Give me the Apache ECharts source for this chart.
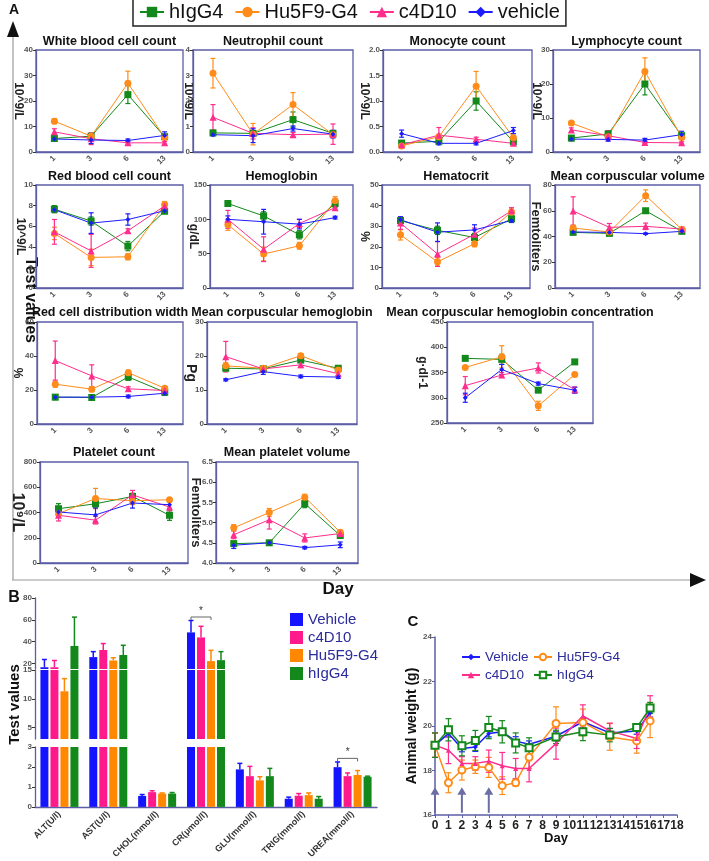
<!DOCTYPE html>
<html><head><meta charset="utf-8">
<script src="https://cdn.jsdelivr.net/npm/echarts@6/dist/echarts.min.js"></script>
<style>html,body{margin:0;padding:0;background:#fff}#c{width:709px;height:861px}</style>
</head><body><div id="c"></div>
<script>
// ---------------- DATA ----------------
const days = ['1','3','6','13'];
const groupsA = ['hIgG4','Hu5F9-G4','c4D10','vehicle'];
// each panel: rows = hIgG4, Hu5F9-G4, c4D10, vehicle ; columns = day 1,3,6,13
const WBC = [[5.3,6.2,22.5,6.0],[12.1,6.2,27.0,5.7],[7.9,5.2,3.6,3.6],[5.1,4.7,4.5,6.5]];
const WBC_ERR = [[0.8,0.8,3.5,0.8],[1.0,0.7,4.7,0.7],[1.2,2.3,0.5,0.5],[0.7,1.4,0.6,1.4]];
const NEU = [[0.75,0.73,1.27,0.73],[3.09,0.70,1.86,0.68],[1.36,0.73,0.68,0.70],[0.68,0.64,0.92,0.70]];
const NEU_ERR = [[0.08,0.08,0.3,0.08],[0.58,0.42,0.47,0.1],[0.5,0.22,0.08,0.4],[0.05,0.27,0.1,0.15]];
const MONO = [[0.175,0.21,1.0,0.2],[0.12,0.3,1.29,0.28],[0.14,0.33,0.25,0.17],[0.36,0.17,0.17,0.42]];
const MONO_ERR = [[0.03,0.03,0.18,0.03],[0.03,0.05,0.29,0.05],[0.02,0.15,0.04,0.03],[0.07,0.03,0.03,0.06]];
const LYM = [[4.1,5.3,20.0,4.8],[8.5,4.5,23.7,4.3],[6.5,4.8,2.8,2.7],[3.8,3.7,3.5,5.1]];
const LYM_ERR = [[0.5,0.8,3.2,0.6],[0.6,0.6,4.0,0.6],[0.6,1.5,0.3,0.3],[0.5,0.5,0.5,1.0]];
const RBC = [[7.65,6.5,4.07,7.45],[5.3,2.97,3.03,8.1],[5.45,3.6,5.55,7.97],[7.6,6.3,6.65,7.5]];
const RBC_ERR = [[0.35,0.4,0.45,0.2],[0.6,0.8,0.3,0.3],[1.2,1.6,0.2,0.3],[0.2,1.0,0.55,0.15]];
const HGB = [[123,105,77.5,123],[92,49.5,61.5,127],[100,56.5,94,117],[100,96.5,93,102.5]];
const HGB_ERR = [[4,6,6,6],[8,10,5,6],[13,18,6,4],[5,18,7,2]];
const HCT = [[32.7,28,24.5,33.6],[25.8,12.7,21.5,36.9],[31.5,16.5,26.1,37.5],[33.1,27.1,28.2,32.8]];
const HCT_ERR = [[1.5,2,2,1.2],[2.5,2,1.5,1.5],[3,6,3,1.5],[1.5,4.5,2.5,1]];
const MCV = [[43.2,42.4,60,44],[46.6,43.5,71.7,45.5],[59.8,47.1,47.9,45.8],[43.5,43.2,42.2,44]];
const MCV_ERR = [[1,1,1.2,1],[2,1,4.5,1.5],[11,3,2.5,1.5],[0.8,0.8,0.5,0.8]];
const RDW = [[15.8,15.6,27.7,18.7],[23.4,20.5,30.2,21],[37.3,28.3,20.7,19.7],[15.8,15.8,16.2,18.1]];
const RDW_ERR = [[1.5,1.5,2,1],[1.8,1.5,1.5,1],[11.5,6.5,1.2,1],[0.5,0.5,0.8,1.2]];
const MCH = [[16.4,16.2,18.8,16.4],[17.1,16.4,20.1,15.9],[19.8,16.2,17.4,14.8],[13,15.4,14,13.8]];
const MCH_ERR = [[0.6,0.5,0.7,0.5],[0.9,0.7,0.6,0.6],[4.5,0.9,0.8,0.6],[0.3,0.8,0.4,0.4]];
const MCHC = [[378,376,315,371],[360,381,284,346],[324,345,359,316],[300,356,328,315]];
const MCHC_ERR = [[4,10,4,3],[3,22,9,3],[18,5,10,5],[9,10,3,6]];
const PLT = [[430,469,527,378],[391,511,493,501],[378,339,540,443],[404,381,475,462]];
const PLT_ERR = [[40,35,25,40],[20,80,30,15],[45,30,35,40],[35,55,40,30]];
const MPV = [[4.48,4.5,5.47,4.68],[4.87,5.25,5.63,4.76],[4.7,5.07,4.62,4.73],[4.44,4.5,4.38,4.45]];
const MPV_ERR = [[0.05,0.04,0.1,0.05],[0.08,0.1,0.07,0.05],[0.1,0.23,0.1,0.05],[0.08,0.03,0.03,0.07]];

const bioCats = ['ALT(U/l)','AST(U/l)','CHOL(mmol/l)','CR(μmol/l)','GLU(mmol/l)','TRIG(mmol/l)','UREA(mmol/l)'];
const bioGroups = ['Vehicle','c4D10','Hu5F9-G4','hIgG4'];
const bioVehicle = [16.6,25.9,0.55,48.5,1.88,0.41,1.99];
const bioC4D10 = [16.6,32.4,0.74,43.9,1.54,0.56,1.54];
const bioHu5F9 = [11.3,22.8,0.67,22.2,1.33,0.59,1.60];
const bioHIgG4 = [36.1,27.8,0.67,23.1,1.54,0.41,1.51];
const bioVehicleErr = [7.1,5.0,0.07,10.9,0.30,0.08,0.26];
const bioC4D10Err = [6.2,5.9,0.07,10.2,0.49,0.11,0.16];
const bioHu5F9Err = [2.2,2.5,0.03,9.9,0.18,0.11,0.22];
const bioHIgG4Err = [26.4,8.9,0.05,7.8,0.39,0.11,0.03];
const bioSig = [[3, 62.6], [6, 2.43]]; // [category index, bracket height]

const weightDays = [0,1,2,3,4,5,6,7,9,11,13,15,16];
const weightGroups = ['Vehicle','Hu5F9-G4','c4D10','hIgG4'];
const wVehicle = [19.14,19.66,18.99,19.06,19.66,19.74,19.32,19.18,19.54,20.19,19.69,19.78,20.6];
const wVehicleErr = [0.15,0.15,0.15,0.2,0.15,0.15,0.2,0.15,0.2,0.15,0.2,0.15,0.2];
const wHu5F9 = [19.14,17.45,18.02,18.17,18.14,17.32,17.45,18.59,20.11,20.16,19.51,19.33,20.23];
const wHu5F9Err = [0.55,0.45,0.45,0.3,0.45,0.4,0.15,0.5,0.75,0.6,0.6,0.55,0.75];
const wC4D10 = [19.14,18.91,18.32,18.32,18.42,18.21,18.09,18.09,19.21,20.45,19.78,19.44,20.86];
const wC4D10Err = [0.55,0.6,0.3,0.3,0.5,0.6,0.45,0.6,0.7,0.5,0.35,0.45,0.5];
const wHIgG4 = [19.14,19.83,19.11,19.35,19.93,19.74,19.24,19.02,19.51,19.74,19.59,19.93,20.81];
const wHIgG4Err = [0.55,0.5,0.45,0.45,0.5,0.5,0.45,0.45,0.3,0.4,0.3,0.1,0.25];
const arrowDays = [0,2,4];

// ---------------- STYLE / LAYOUT ----------------
const F = 'Liberation Sans';
const AX = '#5b5ea6';
const COLA = ['#13881b','#ff8c1a','#ff2d8c','#1c1cff'];
const SYMA = ['rect','circle','triangle','diamond'];
const SIZEA = [7,7,7,5];

const PANELS = [
 {t:'White blood cell count', u:'10^9/L', d:WBC, e:WBC_ERR, min:0,max:40,step:10, box:[36,50,183,152], ty:42, nc:18},
 {t:'Neutrophil count', u:'10^9/L', d:NEU, e:NEU_ERR, min:0,max:4,step:1, box:[193,50,353,152], ty:42, nc:5},
 {t:'Monocyte count', u:'10^9/L', d:MONO, e:MONO_ERR, min:0,max:2,step:0.5, box:[383,50,532,152], ty:42, nc:19, dec:1},
 {t:'Lymphocyte count', u:'10^9/L', d:LYM, e:LYM_ERR, min:0,max:30,step:10, box:[553,50,700,152], ty:42, nc:17},
 {t:'Red blood cell count', u:'10^9/L', d:RBC, e:RBC_ERR, min:0,max:10,step:2, box:[36,185,183,288], ty:177, nc:16},
 {t:'Hemoglobin', u:'g/dL', d:HGB, e:HGB_ERR, min:0,max:150,step:50, box:[210,185,353,288], ty:177, nc:17},
 {t:'Hematocrit', u:'%', d:HCT, e:HCT_ERR, min:0,max:50,step:10, box:[382,185,530,288], ty:177, nc:18},
 {t:'Mean corpuscular volume', u:'Femtoliters', d:MCV, e:MCV_ERR, min:0,max:80,step:20, box:[555,185,700,288], ty:177, nc:19, fs:13},
 {t:'Red cell distribution width', u:'%', d:RDW, e:RDW_ERR, min:0,max:60,step:20, box:[37,322,183,424], ty:313, nc:20},
 {t:'Mean corpuscular hemoglobin', u:'Pg', d:MCH, e:MCH_ERR, min:0,max:30,step:10, box:[207,322,357,424], ty:313, nc:16, fs:14},
 {t:'Mean corpuscular hemoglobin concentration', u:'g·dl-1', d:MCHC, e:MCHC_ERR, min:250,max:450,step:50, box:[447,322,593,423], ty:313, nc:25},
 {t:'Platelet count', u:'10⁹/L', d:PLT, e:PLT_ERR, min:0,max:800,step:200, box:[40,462,188,563], ty:453, nc:23, fs:16},
 {t:'Mean platelet volume', u:'Femtoliters', d:MPV, e:MPV_ERR, min:4,max:6.5,step:0.5, box:[216,462,358,563], ty:453, nc:20, fs:13, dec:1}
];

function errRenderer(color, cap, both, offset, lw){
  return function(params, api){
    const ci = api.value(0), m = api.value(1), e = api.value(2);
    const top = api.coord([ci, m + e]);
    const bot = api.coord([ci, both ? m - e : m]);
    const x = top[0] + (offset || 0);
    const st = {stroke: color, lineWidth: lw || 1.2};
    const ch = [
      {type:'line', shape:{x1:x, y1:top[1], x2:x, y2:bot[1]}, style:st},
      {type:'line', shape:{x1:x-cap, y1:top[1], x2:x+cap, y2:top[1]}, style:st}
    ];
    if (both) ch.push({type:'line', shape:{x1:x-cap, y1:bot[1], x2:x+cap, y2:bot[1]}, style:st});
    return {type:'group', children: ch};
  };
}

const grids = [], xAxes = [], yAxes = [], series = [], graphics = [];

// ---- Panel A ----
PANELS.forEach((p, i) => {
  const [x1, y1, x2, y2] = p.box;
  grids.push({left:x1, top:y1, width:x2-x1, height:y2-y1, show:true, borderColor:AX, borderWidth:1.3});
  xAxes.push({gridIndex:i, type:'category', data:days, boundaryGap:true,
    axisLine:{lineStyle:{color:AX, width:1.3}},
    axisTick:{alignWithLabel:true, length:3, lineStyle:{color:'#333'}},
    axisLabel:{rotate:45, fontSize:8, fontWeight:'bold', color:'#555', margin:5, fontFamily:F}});
  const fs = p.fs || 12;
  yAxes.push({gridIndex:i, type:'value', min:p.min, max:p.max, interval:p.step,
    name:p.u, nameLocation:'middle', nameRotate:-90, nameGap:p.nc - fs/2, nameMoveOverlap:false,
    nameTextStyle:{fontSize:fs, fontWeight:'bold', color:'#222', fontFamily:F},
    axisLine:{show:true, lineStyle:{color:AX, width:1.3}},
    axisTick:{show:true, length:3, lineStyle:{color:'#333'}},
    splitLine:{show:false},
    axisLabel:{fontSize:8, fontWeight:'bold', color:'#555', margin:3, fontFamily:F,
      formatter: v => p.dec ? v.toFixed(p.dec) : String(v)}});
  groupsA.forEach((g, k) => {
    series.push({type:'custom', xAxisIndex:i, yAxisIndex:i, silent:true, animation:false, z:2,
      data:p.d[k].map((v, j) => [j, v, p.e[k][j]]),
      renderItem: errRenderer(COLA[k], 2.5, true, 0, 1.2)});
    series.push({type:'line', name:g, xAxisIndex:i, yAxisIndex:i, data:p.d[k], animation:false, z:3,
      symbol:SYMA[k], symbolSize:SIZEA[k], showAllSymbol:true,
      itemStyle:{color:COLA[k]}, lineStyle:{color:COLA[k], width:1}});
  });
  graphics.push({type:'text', x:(x1+x2)/2, y:p.ty, style:{text:p.t, font:'bold 12.5px "Liberation Sans"', fill:'#111',
    textAlign:'center', textVerticalAlign:'middle', align:'center', verticalAlign:'middle'}});
});

// ---- Panel B (broken axis: three stacked grids) ----
const SEGS = [
  {top:747, h:68, min:0, max:3, step:1, labels:null, xShow:true},
  {top:670, h:69, min:3, max:15, step:1, labels:[5,10,15], xShow:false, name:true},
  {top:598, h:71, min:15, max:80, step:5, labels:[20,40,60,80], xShow:false}
];
const bioVals = [bioVehicle, bioC4D10, bioHu5F9, bioHIgG4];
const bioErrs = [bioVehicleErr, bioC4D10Err, bioHu5F9Err, bioHIgG4Err];
const COLB = ['#1414ff','#ff1a8c','#ff8800','#13881b'];
SEGS.forEach((s, si) => {
  const gi = grids.length;
  grids.push({left:35, top:s.top, width:342, height:s.h});
  xAxes.push({gridIndex:gi, type:'category', data:bioCats, show:s.xShow,
    axisLine:{lineStyle:{color:AX, width:1.3}},
    axisTick:{alignWithLabel:true, length:3, lineStyle:{color:'#333'}},
    axisLabel:{rotate:45, fontSize:9, fontWeight:'bold', color:'#333', margin:6, fontFamily:F}});
  const ya = {gridIndex:gi, type:'value', min:s.min, max:s.max, interval:s.step,
    axisLine:{show:true, lineStyle:{color:AX, width:1.3}},
    axisTick:{show:true, length:3, lineStyle:{color:'#333'}},
    splitLine:{show:false},
    axisLabel:{fontSize:8, fontWeight:'bold', color:'#555', margin:3, fontFamily:F}};
  if (s.labels) { ya.axisLabel.customValues = s.labels; ya.axisTick.customValues = s.labels; }
  if (s.name) Object.assign(ya, {name:'Test values', nameLocation:'middle', nameRotate:90, nameGap:12.5, nameMoveOverlap:false,
    nameTextStyle:{fontSize:15, fontWeight:'bold', color:'#111', fontFamily:F}});
  yAxes.push(ya);
  bioGroups.forEach((g, k) => {
    series.push({type:'bar', name:'B:'+g, xAxisIndex:gi, yAxisIndex:gi, data:bioVals[k], barWidth:8, barGap:'25%',
      clip:true, animation:false, itemStyle:{color:COLB[k]}});
    series.push({type:'custom', xAxisIndex:gi, yAxisIndex:gi, clip:true, silent:true, animation:false, z:3,
      data:bioVals[k].map((v, j) => [j, v, bioErrs[k][j]]),
      renderItem: errRenderer(COLB[k], 2.5, false, (k - 1.5) * 10, 1.5)});
  });
  series.push({type:'custom', xAxisIndex:gi, yAxisIndex:gi, clip:true, silent:true, animation:false, z:4,
    data:bioSig.filter(d => d[1] >= s.min && d[1] <= s.max),
    renderItem:(params, api) => {
      const p = api.coord([api.value(0), api.value(1)]);
      const xa = p[0] - 15, xb = p[0] + 5, y = p[1];
      const st = {stroke:'#666', lineWidth:1};
      return {type:'group', children:[
        {type:'line', shape:{x1:xa, y1:y, x2:xb, y2:y}, style:st},
        {type:'line', shape:{x1:xa, y1:y, x2:xa, y2:y+3}, style:st},
        {type:'line', shape:{x1:xb, y1:y, x2:xb, y2:y+3}, style:st},
        {type:'text', style:{text:'*', x:(xa+xb)/2, y:y-1, font:'10px "Liberation Sans"', fill:'#333',
          textAlign:'center', textVerticalAlign:'bottom', align:'center', verticalAlign:'bottom'}}
      ]};
    }});
});

// ---- Panel C ----
const giC = grids.length;
grids.push({left:435, top:637, width:242, height:178});
xAxes.push({gridIndex:giC, type:'value', min:0, max:18, interval:1,
  name:'Day', nameLocation:'middle', nameGap:17, nameMoveOverlap:false,
  nameTextStyle:{fontSize:13, fontWeight:'bold', color:'#111', fontFamily:F},
  axisLine:{lineStyle:{color:AX, width:1.5}},
  axisTick:{length:3, lineStyle:{color:AX}},
  splitLine:{show:false},
  axisLabel:{fontSize:12, fontWeight:'bold', color:'#222', margin:5, fontFamily:F}});
yAxes.push({gridIndex:giC, type:'value', min:16, max:24, interval:2,
  name:'Animal weight (g)', nameLocation:'middle', nameRotate:90, nameGap:16, nameMoveOverlap:false,
  nameTextStyle:{fontSize:14, fontWeight:'bold', color:'#111', fontFamily:F},
  axisLine:{show:true, lineStyle:{color:AX, width:1.5}},
  axisTick:{show:true, length:3, lineStyle:{color:AX}},
  splitLine:{show:false},
  axisLabel:{fontSize:8, fontWeight:'bold', color:'#555', margin:3, fontFamily:F}});
const wVals = [wVehicle, wHu5F9, wC4D10, wHIgG4];
const wErrs = [wVehicleErr, wHu5F9Err, wC4D10Err, wHIgG4Err];
const COLC = ['#1c1cff','#ff8c1a','#ff2d8c','#13881b'];
const SYMC = ['diamond','emptyCircle','triangle','emptyRect'];
const SIZEC = [5,7,5,7];
weightGroups.forEach((g, k) => {
  series.push({type:'custom', xAxisIndex:giC, yAxisIndex:giC, silent:true, animation:false, z:2,
    data:weightDays.map((d, j) => [d, wVals[k][j], wErrs[k][j]]),
    renderItem: errRenderer(COLC[k], 3, true, 0, 1.2)});
  series.push({type:'line', name:'C:'+g, xAxisIndex:giC, yAxisIndex:giC, animation:false, z:3,
    data:weightDays.map((d, j) => [d, wVals[k][j]]),
    symbol:SYMC[k], symbolSize:SIZEC[k], showAllSymbol:true,
    itemStyle:{color:COLC[k], borderWidth:1.2}, lineStyle:{color:COLC[k], width:1.5}});
});
series.push({type:'custom', xAxisIndex:giC, yAxisIndex:giC, silent:true, animation:false, z:1,
  data:arrowDays.map(d => [d, 16]),
  renderItem:(params, api) => {
    const d = api.value(0);
    const a = api.coord([d, 16.1]), b = api.coord([d, 16.95]), t = api.coord([d, 17.25]);
    return {type:'group', children:[
      {type:'line', shape:{x1:a[0], y1:a[1], x2:b[0], y2:b[1]}, style:{stroke:'#6a6ea3', lineWidth:2}},
      {type:'polygon', shape:{points:[[t[0], t[1]], [t[0]-4.5, b[1]+1], [t[0]+4.5, b[1]+1]]}, style:{fill:'#6a6ea3'}}
    ]};
  }});

// ---- decorations ----
graphics.push(
  {type:'line', shape:{x1:13, y1:36, x2:13, y2:580}, style:{stroke:'#999', lineWidth:1.2}},
  {type:'polygon', shape:{points:[[13,21],[7,37],[19,37]]}, style:{fill:'#111'}},
  {type:'line', shape:{x1:12, y1:580, x2:692, y2:580}, style:{stroke:'#999', lineWidth:1.2}},
  {type:'polygon', shape:{points:[[706,580],[690,573],[690,587]]}, style:{fill:'#111'}},
  {type:'text', x:14, y:10, style:{text:'A', font:'bold 14px "Liberation Sans"', fill:'#111', textAlign:'center', textVerticalAlign:'middle', align:'center', verticalAlign:'middle'}},
  {type:'text', x:14, y:598, style:{text:'B', font:'bold 16px "Liberation Sans"', fill:'#111', textAlign:'center', textVerticalAlign:'middle', align:'center', verticalAlign:'middle'}},
  {type:'text', x:413, y:622, style:{text:'C', font:'bold 15px "Liberation Sans"', fill:'#111', textAlign:'center', textVerticalAlign:'middle', align:'center', verticalAlign:'middle'}},
  {type:'text', x:338, y:589, style:{text:'Day', font:'bold 17px "Liberation Sans"', fill:'#111', textAlign:'center', textVerticalAlign:'middle', align:'center', verticalAlign:'middle'}},
  {type:'text', x:30, y:300, rotation:-Math.PI/2, style:{text:'Test values', font:'bold 16px "Liberation Sans"', fill:'#111', textAlign:'center', textVerticalAlign:'middle', align:'center', verticalAlign:'middle'}}
);

const legends = [
  {data:groupsA, left:133, top:-3, padding:[5,6,4,6], itemWidth:24, itemHeight:13, itemGap:11,
   borderColor:'#222', borderWidth:1.5, selectedMode:false,
   textStyle:{fontSize:20, color:'#111', fontFamily:F}},
  {data:bioGroups.map(g => 'B:'+g), left:285, top:607, orient:'vertical', itemWidth:13, itemHeight:13, itemGap:3,
   icon:'rect', selectedMode:false, formatter:n => n.slice(2),
   textStyle:{fontSize:15, color:'#2b2b9c', fontFamily:F}},
  {data:['C:Vehicle','C:c4D10'], left:456, top:645, orient:'vertical', itemWidth:18, itemHeight:8, itemGap:4,
   selectedMode:false, formatter:n => n.slice(2), textStyle:{fontSize:13.5, color:'#2b2b9c', fontFamily:F}},
  {data:['C:Hu5F9-G4','C:hIgG4'], left:528, top:645, orient:'vertical', itemWidth:18, itemHeight:8, itemGap:4,
   selectedMode:false, formatter:n => n.slice(2), textStyle:{fontSize:13.5, color:'#2b2b9c', fontFamily:F}}
];

const chart = echarts.init(document.getElementById('c'), null, {renderer:'canvas'});
chart.setOption({
  backgroundColor:'#fff',
  animation:false,
  textStyle:{fontFamily:F},
  grid:grids, xAxis:xAxes, yAxis:yAxes, series:series, legend:legends, graphic:graphics
});
</script></body></html>
